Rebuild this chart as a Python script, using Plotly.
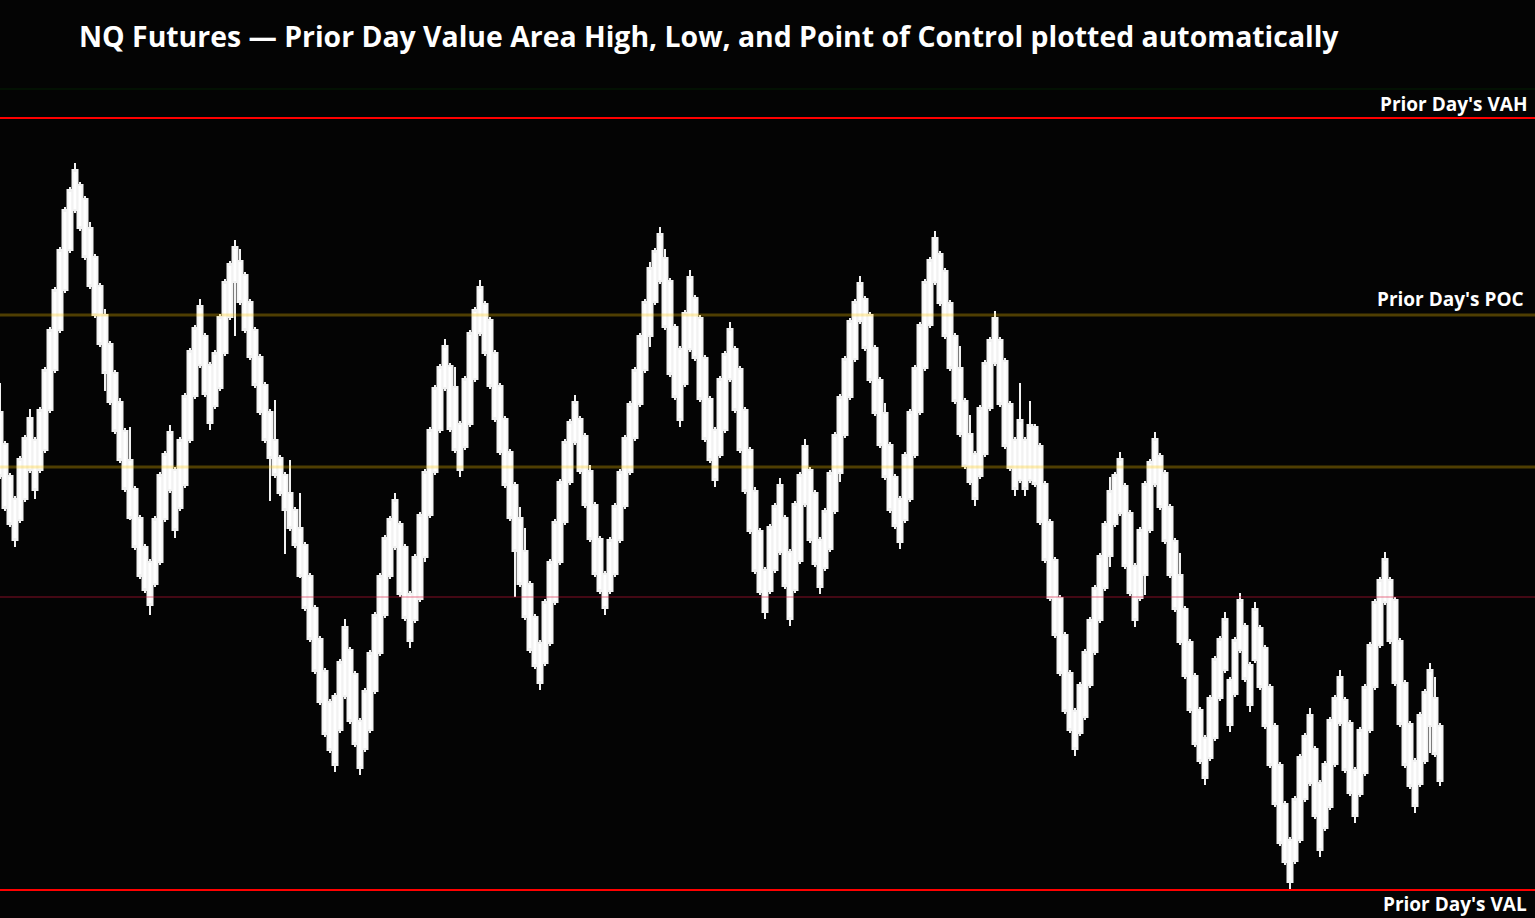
import plotly.graph_objects as go

title_text = "NQ Futures — Prior Day Value Area High, Low, and Point of Control plotted automatically"

# OHLC of each bar (price points), left to right
opens = [
    20588, 20556, 20524, 20501, 20480, 20501, 20530, 20560, 20530, 20550,
    20590, 20630, 20670, 20710, 20750, 20790, 20815, 20801, 20772, 20743,
    20714, 20685, 20656, 20627, 20598, 20569, 20540, 20511, 20482, 20453,
    20438, 20416, 20438, 20481, 20510, 20530, 20492, 20515, 20560, 20604,
    20635, 20664, 20635, 20594, 20612, 20647, 20683, 20718, 20739, 20725,
    20698, 20670, 20643, 20615, 20588, 20560, 20542, 20525, 20507, 20490,
    20472, 20455, 20424, 20392, 20361, 20329, 20298, 20304, 20270, 20304,
    20350, 20326, 20279, 20251, 20270, 20309, 20347, 20385, 20424, 20453,
    20476, 20453, 20406, 20380, 20401, 20443, 20485, 20528, 20570, 20612,
    20634, 20613, 20576, 20553, 20576, 20621, 20667, 20696, 20680, 20647,
    20614, 20581, 20548, 20515, 20482, 20449, 20416, 20383, 20357, 20337,
    20357, 20398, 20438, 20478, 20518, 20558, 20581, 20564, 20529, 20495,
    20461, 20426, 20409, 20426, 20460, 20494, 20528, 20562, 20596, 20630,
    20664, 20698, 20719, 20742, 20719, 20673, 20651, 20616, 20651, 20702,
    20682, 20642, 20601, 20570, 20545, 20570, 20621, 20651, 20631, 20590,
    20550, 20509, 20469, 20430, 20409, 20430, 20448, 20482, 20448, 20410,
    20439, 20496, 20530, 20507, 20460, 20432, 20451, 20489, 20527, 20565,
    20603, 20641, 20679, 20701, 20685, 20652, 20620, 20587, 20555, 20523,
    20501, 20480, 20501, 20545, 20588, 20632, 20675, 20718, 20746, 20729,
    20697, 20664, 20632, 20599, 20566, 20546, 20524, 20546, 20592, 20637,
    20660, 20639, 20596, 20560, 20520, 20560, 20520, 20573, 20554, 20516,
    20478, 20440, 20402, 20365, 20327, 20289, 20267, 20283, 20315, 20348,
    20380, 20412, 20444, 20476, 20487, 20514, 20487, 20434, 20402, 20425,
    20470, 20516, 20544, 20527, 20493, 20459, 20425, 20391, 20358, 20324,
    20290, 20262, 20242, 20262, 20302, 20330, 20320, 20306, 20350, 20374,
    20335, 20340, 20372, 20352, 20313, 20274, 20235, 20196, 20160, 20139,
    20160, 20201, 20217, 20251, 20217, 20172, 20193, 20236, 20277, 20300,
    20277, 20230, 20206, 20227, 20270, 20313, 20355, 20398, 20420, 20400,
    20359, 20317, 20276, 20239, 20216, 20239, 20274, 20302, 20274,
]
highs = [
    20617, 20559, 20527, 20504, 20544, 20565, 20591, 20563, 20593, 20633,
    20673, 20713, 20753, 20793, 20813, 20837, 20818, 20804, 20778, 20746,
    20717, 20691, 20659, 20630, 20602, 20572, 20573, 20514, 20485, 20456,
    20441, 20484, 20528, 20549, 20575, 20533, 20563, 20607, 20652, 20675,
    20701, 20667, 20638, 20650, 20686, 20721, 20739, 20760, 20751, 20728,
    20701, 20673, 20646, 20618, 20591, 20600, 20545, 20528, 20540, 20493,
    20507, 20458, 20427, 20395, 20364, 20332, 20301, 20307, 20341, 20381,
    20353, 20329, 20282, 20312, 20350, 20388, 20427, 20465, 20484, 20507,
    20479, 20456, 20409, 20446, 20488, 20531, 20573, 20615, 20636, 20661,
    20637, 20633, 20579, 20624, 20670, 20693, 20720, 20699, 20683, 20650,
    20617, 20584, 20551, 20518, 20493, 20472, 20419, 20386, 20360, 20401,
    20441, 20481, 20521, 20561, 20581, 20605, 20584, 20567, 20535, 20498,
    20464, 20429, 20463, 20497, 20531, 20565, 20599, 20633, 20667, 20701,
    20738, 20752, 20773, 20751, 20722, 20676, 20654, 20690, 20730, 20705,
    20685, 20645, 20604, 20573, 20624, 20649, 20678, 20654, 20634, 20593,
    20553, 20513, 20472, 20433, 20476, 20497, 20522, 20485, 20451, 20499,
    20528, 20561, 20533, 20510, 20463, 20492, 20530, 20568, 20606, 20644,
    20682, 20701, 20724, 20704, 20688, 20655, 20623, 20597, 20558, 20526,
    20504, 20548, 20591, 20635, 20678, 20721, 20743, 20769, 20749, 20732,
    20700, 20667, 20654, 20602, 20585, 20549, 20595, 20640, 20663, 20689,
    20663, 20642, 20599, 20563, 20617, 20563, 20599, 20576, 20557, 20519,
    20481, 20443, 20405, 20368, 20330, 20292, 20318, 20351, 20383, 20415,
    20447, 20479, 20523, 20528, 20548, 20517, 20490, 20437, 20473, 20519,
    20541, 20568, 20547, 20530, 20496, 20462, 20447, 20394, 20361, 20327,
    20293, 20265, 20305, 20344, 20364, 20388, 20323, 20363, 20407, 20377,
    20338, 20398, 20375, 20355, 20316, 20277, 20238, 20199, 20163, 20204,
    20246, 20267, 20292, 20254, 20220, 20239, 20283, 20305, 20330, 20303,
    20280, 20233, 20273, 20316, 20358, 20401, 20423, 20448, 20423, 20403,
    20362, 20320, 20279, 20242, 20288, 20311, 20337, 20323, 20277,
]
lows = [
    20521, 20489, 20473, 20453, 20477, 20498, 20527, 20501, 20527, 20547,
    20587, 20627, 20667, 20707, 20747, 20787, 20769, 20740, 20711, 20682,
    20653, 20609, 20595, 20566, 20537, 20508, 20480, 20450, 20421, 20407,
    20385, 20413, 20435, 20478, 20507, 20462, 20489, 20512, 20557, 20601,
    20632, 20603, 20570, 20591, 20609, 20644, 20680, 20664, 20695, 20667,
    20640, 20612, 20585, 20557, 20499, 20522, 20504, 20446, 20469, 20452,
    20422, 20389, 20358, 20326, 20295, 20263, 20247, 20228, 20267, 20301,
    20276, 20253, 20225, 20248, 20267, 20306, 20344, 20382, 20421, 20450,
    20403, 20379, 20352, 20377, 20398, 20438, 20482, 20525, 20567, 20609,
    20568, 20547, 20523, 20550, 20573, 20618, 20664, 20644, 20611, 20578,
    20545, 20512, 20479, 20403, 20413, 20380, 20347, 20331, 20310, 20334,
    20354, 20395, 20435, 20475, 20515, 20555, 20526, 20492, 20458, 20423,
    20406, 20385, 20406, 20423, 20457, 20491, 20525, 20559, 20593, 20627,
    20653, 20695, 20716, 20670, 20623, 20600, 20573, 20613, 20648, 20639,
    20598, 20558, 20537, 20513, 20542, 20567, 20618, 20587, 20547, 20506,
    20466, 20426, 20405, 20381, 20406, 20427, 20445, 20411, 20374, 20407,
    20436, 20493, 20457, 20433, 20406, 20429, 20448, 20486, 20518, 20562,
    20600, 20638, 20676, 20649, 20617, 20584, 20552, 20520, 20487, 20471,
    20451, 20477, 20498, 20542, 20585, 20629, 20672, 20715, 20694, 20661,
    20629, 20596, 20563, 20531, 20515, 20494, 20521, 20543, 20589, 20634,
    20593, 20551, 20529, 20504, 20517, 20504, 20517, 20513, 20475, 20437,
    20399, 20362, 20324, 20286, 20267, 20244, 20264, 20280, 20312, 20345,
    20377, 20409, 20433, 20473, 20484, 20431, 20404, 20373, 20399, 20405,
    20467, 20513, 20490, 20456, 20422, 20388, 20355, 20321, 20287, 20253,
    20236, 20215, 20239, 20259, 20299, 20327, 20268, 20303, 20347, 20318,
    20288, 20337, 20310, 20271, 20232, 20193, 20154, 20135, 20111, 20136,
    20157, 20198, 20214, 20181, 20143, 20169, 20190, 20233, 20274, 20227,
    20204, 20177, 20203, 20224, 20267, 20310, 20352, 20395, 20356, 20314,
    20273, 20232, 20211, 20187, 20213, 20236, 20247, 20243, 20214,
]
closes = [
    20524, 20492, 20476, 20460, 20541, 20562, 20582, 20510, 20590, 20630,
    20670, 20710, 20750, 20790, 20810, 20830, 20772, 20743, 20714, 20685,
    20656, 20627, 20598, 20569, 20540, 20511, 20482, 20453, 20424, 20410,
    20395, 20481, 20525, 20546, 20568, 20470, 20560, 20604, 20649, 20672,
    20694, 20606, 20577, 20647, 20683, 20718, 20736, 20753, 20698, 20670,
    20643, 20615, 20588, 20560, 20542, 20525, 20507, 20490, 20472, 20455,
    20424, 20392, 20361, 20329, 20298, 20266, 20250, 20235, 20338, 20373,
    20279, 20256, 20232, 20309, 20347, 20385, 20424, 20462, 20481, 20500,
    20406, 20382, 20359, 20443, 20485, 20528, 20570, 20612, 20633, 20654,
    20571, 20550, 20530, 20621, 20667, 20690, 20713, 20647, 20614, 20581,
    20548, 20515, 20482, 20449, 20416, 20383, 20350, 20334, 20317, 20398,
    20438, 20478, 20518, 20558, 20578, 20598, 20529, 20495, 20461, 20426,
    20409, 20392, 20460, 20494, 20528, 20562, 20596, 20630, 20664, 20698,
    20732, 20749, 20766, 20673, 20626, 20603, 20580, 20687, 20723, 20642,
    20601, 20561, 20540, 20520, 20621, 20646, 20671, 20590, 20550, 20509,
    20469, 20429, 20408, 20388, 20473, 20494, 20515, 20414, 20381, 20496,
    20525, 20554, 20460, 20436, 20413, 20489, 20527, 20565, 20603, 20641,
    20679, 20698, 20717, 20652, 20620, 20587, 20555, 20523, 20490, 20474,
    20458, 20545, 20588, 20632, 20675, 20718, 20740, 20762, 20697, 20664,
    20632, 20599, 20566, 20534, 20518, 20501, 20592, 20637, 20660, 20682,
    20596, 20554, 20532, 20511, 20580, 20511, 20575, 20516, 20478, 20440,
    20402, 20365, 20327, 20289, 20270, 20251, 20315, 20348, 20380, 20412,
    20444, 20476, 20509, 20525, 20541, 20434, 20407, 20380, 20470, 20516,
    20538, 20561, 20493, 20459, 20425, 20391, 20358, 20324, 20290, 20256,
    20239, 20222, 20302, 20341, 20361, 20381, 20275, 20360, 20400, 20321,
    20295, 20391, 20313, 20274, 20235, 20196, 20157, 20138, 20118, 20201,
    20243, 20264, 20285, 20184, 20150, 20236, 20280, 20302, 20323, 20230,
    20207, 20184, 20270, 20313, 20355, 20398, 20420, 20441, 20359, 20317,
    20276, 20235, 20214, 20194, 20285, 20308, 20330, 20246, 20219,
]
assert len(opens) == len(highs) == len(lows) == len(closes), (
    len(opens), len(highs), len(lows), len(closes))
bars = list(range(len(closes)))

# Labelled prior-day levels
level_names = ["Prior Day's VAH", "Prior Day's POC", "Prior Day's VAL"]
level_prices = [20882, 20685, 20110]
# Other (unlabelled) reference levels
other_levels = [20911, 20533, 20403]

fig = go.Figure()
fig.add_trace(go.Candlestick(
    x=bars, open=opens, high=highs, low=lows, close=closes,
    increasing=dict(fillcolor="#ffffff", line=dict(color="#f2f2f2", width=2)),
    decreasing=dict(fillcolor="#ffffff", line=dict(color="#f2f2f2", width=2)),
    whiskerwidth=0, showlegend=False, hoverinfo="skip",
))

# unlabelled levels
fig.add_hline(y=other_levels[0], line=dict(color="rgba(0,128,0,0.22)", width=1), layer="above")
fig.add_hline(y=other_levels[1], line=dict(color="rgba(255,200,0,0.30)", width=3), layer="above")
fig.add_hline(y=other_levels[2], line=dict(color="rgba(220,20,60,0.30)", width=2), layer="above")
# labelled levels
fig.add_hline(y=level_prices[0], line=dict(color="#ff0000", width=2), layer="above")
fig.add_hline(y=level_prices[1], line=dict(color="rgba(255,200,0,0.30)", width=3), layer="above")
fig.add_hline(y=level_prices[2], line=dict(color="#ff0000", width=2), layer="above")

label_font = dict(family="Open Sans", size=19, color="#ffffff", weight="bold")
fig.add_annotation(x=1, xref="paper", xanchor="right", xshift=-6,
                   y=level_prices[0], yref="y", yanchor="bottom", yshift=-1,
                   text=level_names[0], showarrow=False, font=label_font)
fig.add_annotation(x=1, xref="paper", xanchor="right", xshift=-9,
                   y=level_prices[1], yref="y", yanchor="bottom", yshift=1,
                   text=level_names[1], showarrow=False, font=label_font)
fig.add_annotation(x=1, xref="paper", xanchor="right", xshift=-6,
                   y=level_prices[2], yref="y", yanchor="top", yshift=1,
                   text=level_names[2], showarrow=False, font=label_font)

fig.update_layout(
    width=1535, height=918,
    margin=dict(l=0, r=0, t=0, b=0),
    paper_bgcolor="#040404", plot_bgcolor="#040404",
    boxgap=0, boxgroupgap=0,
    title=dict(text=title_text, x=79 / 1535, xanchor="left", xref="container",
               y=1 - 37 / 918, yanchor="middle", yref="container",
               font=dict(family="Open Sans", size=28.4, color="#ffffff", weight="bold")),
    xaxis=dict(visible=False, range=[0, 307], rangeslider=dict(visible=False)),
    yaxis=dict(visible=False, range=[20082, 21000]),
    showlegend=False,
)

fig.write_html("out.html", config={"displayModeBar": False},
               post_script="document.body.style.margin='0';")
